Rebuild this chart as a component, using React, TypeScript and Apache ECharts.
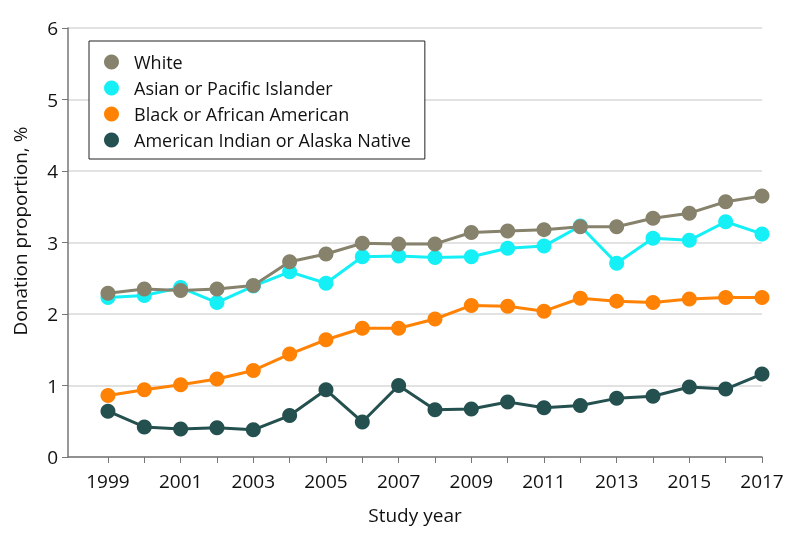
import React, { useEffect, useRef } from "react";
import * as echarts from "echarts";

const years = [1999, 2000, 2001, 2002, 2003, 2004, 2005, 2006, 2007, 2008, 2009, 2010, 2011, 2012, 2013, 2014, 2015, 2016, 2017];
const white = [2.29, 2.35, 2.33, 2.35, 2.40, 2.73, 2.84, 2.99, 2.98, 2.98, 3.14, 3.16, 3.18, 3.22, 3.22, 3.34, 3.41, 3.57, 3.65];
const asian = [2.23, 2.26, 2.37, 2.16, 2.39, 2.59, 2.43, 2.80, 2.81, 2.79, 2.80, 2.92, 2.95, 3.23, 2.71, 3.06, 3.03, 3.29, 3.12];
const black = [0.86, 0.94, 1.01, 1.09, 1.21, 1.44, 1.64, 1.80, 1.80, 1.93, 2.12, 2.11, 2.04, 2.22, 2.18, 2.16, 2.21, 2.23, 2.23];
const aian = [0.64, 0.42, 0.39, 0.41, 0.38, 0.58, 0.94, 0.49, 1.00, 0.66, 0.67, 0.77, 0.69, 0.72, 0.82, 0.85, 0.98, 0.95, 1.16];
const labelYears = [1999, 2001, 2003, 2005, 2007, 2009, 2011, 2013, 2015, 2017];
const names = ["White", "Asian or Pacific Islander", "Black or African American", "American Indian or Alaska Native"];
const colors = ["#86826c", "#14f0f5", "#ff8205", "#24504f"];

const FONT = "Open Sans";

export default function App() {
  const ref = useRef<HTMLDivElement>(null);
  useEffect(() => {
    const chart = echarts.init(ref.current!, undefined, { renderer: "svg" });
    const mk = (name: string, data: number[], color: string) => ({
      name,
      type: "line",
      data: years.map((y, i) => [y, data[i]]),
      symbol: "circle",
      symbolSize: 15,
      lineStyle: { color, width: 3 },
      itemStyle: { color },
      color,
    });
    chart.setOption({
      animation: false,
      textStyle: { fontFamily: FONT },
      grid: { left: 68, right: 32, top: 28, bottom: 85, containLabel: false },
      legend: {
        orient: "vertical",
        left: 89,
        top: 41,
        data: names,
        icon: "circle",
        itemWidth: 15,
        itemHeight: 15,
        itemGap: 8,
        padding: [12, 14, 10, 15],
        borderColor: "#222",
        borderWidth: 1,
        backgroundColor: "#fff",
        textStyle: { fontFamily: FONT, fontSize: 18, color: "#111", lineHeight: 18, padding: [0, 0, 0, 10] },
      },
      xAxis: {
        type: "value",
        min: 1997.9,
        max: 2017,
        name: "Study year",
        nameLocation: "middle",
        nameGap: 48,
        nameTextStyle: { fontFamily: FONT, fontSize: 19, color: "#111" },
        axisLine: { lineStyle: { color: "#777", width: 1.5 } },
        axisTick: { show: true, length: 6, customValues: years, lineStyle: { color: "#777" } },
        axisLabel: {
          customValues: labelYears,
          fontSize: 19,
          color: "#111",
          margin: 14,
          fontFamily: FONT,
          formatter: (v: number) => String(Math.round(v)),
        },
        splitLine: { show: false },
      },
      yAxis: {
        type: "value",
        min: 0,
        max: 6,
        interval: 1,
        axisLine: { show: true, lineStyle: { color: "#777", width: 1.5 } },
        axisTick: { show: true, length: 6, lineStyle: { color: "#777" } },
        axisLabel: { fontSize: 19, color: "#111", margin: 10, fontFamily: FONT },
        splitLine: { show: true, lineStyle: { color: "#d9d9d9", width: 1.5 } },
      },
      graphic: [
        {
          type: "text",
          x: 20,
          y: 231,
          rotation: Math.PI / 2,
          style: {
            text: "Donation proportion, %",
            fontFamily: FONT,
            fontSize: 19,
            fill: "#111",
            align: "center",
            verticalAlign: "middle",
          },
        },
      ],
      series: [
        mk(names[3], aian, colors[3]),
        mk(names[2], black, colors[2]),
        mk(names[1], asian, colors[1]),
        mk(names[0], white, colors[0]),
      ],
    });
    return () => chart.dispose();
  }, []);
  return <div ref={ref} style={{ position: "fixed", left: 0, top: 0, width: 794, height: 542 }} />;
}
